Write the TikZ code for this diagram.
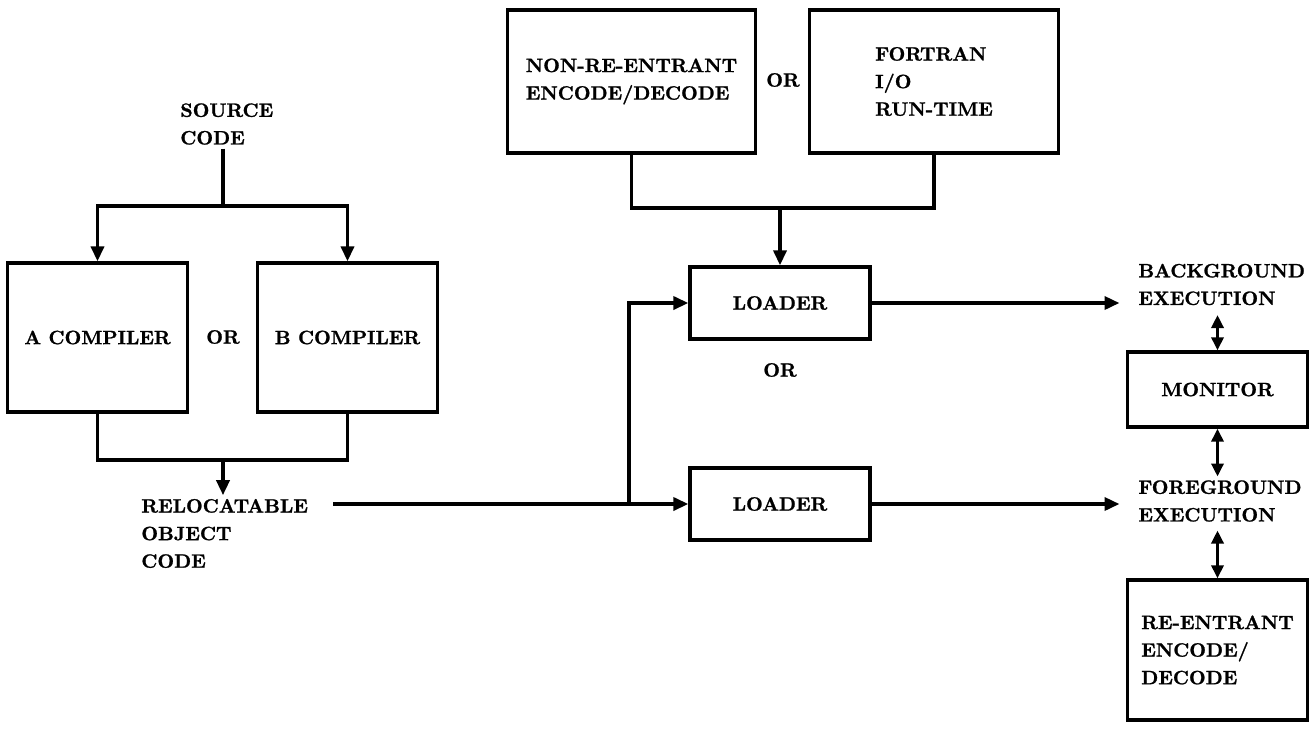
\documentclass[tikz,border=0pt]{standalone}
\usepackage{fontspec}
\setmainfont{Latin Modern Roman}[BoldFeatures={FakeBold=1.2}]
\usetikzlibrary{positioning,arrows.meta,calc}

\begin{document}
\begin{tikzpicture}[x=0.02cm, y=-0.02cm, font=\fontsize{11}{15.7}\selectfont\bfseries, every node/.style={align=left}]
\tikzset{
  box/.style={draw, line width=1.9pt, minimum width=3.6cm, minimum height=2.98cm},
  libbox/.style={box, minimum width=4.97cm, minimum height=2.86cm},
  ldrbox/.style={box, minimum height=1.44cm},
  lbl/.style={inner sep=2pt, anchor=west},
  ln/.style={line width=2pt},
  arr/.style={ln, -{Triangle[length=0.3cm,width=0.26cm]}},
  darr/.style={ln, {Triangle[length=0.26cm,width=0.24cm]}-{Triangle[length=0.26cm,width=0.24cm]}}
}
  \useasboundingbox (0,0) rectangle (1309,728);
  \node[lbl] (src) at (176.5,124) {SOURCE\\CODE};
  \node[box] (acomp) at (97.5,337.5) {A COMPILER};
  \node (or1) at (223,337) {OR};
  \node[box] (bcomp) at (347.5,337.5) {B COMPILER};
  \node[lbl] (reloc) at (137.5,533.5) {RELOCATABLE\\OBJECT\\CODE};
  \node[libbox] (nonre) at (631.5,81.5) {NON-RE-ENTRANT\\ENCODE/DECODE};
  \node (or2) at (783,80) {OR};
  \node[libbox] (fortran) at (934,81.5) {FORTRAN\\I/O\\RUN-TIME};
  \node[ldrbox] (lda) at (780,303) {LOADER};
  \node (or3) at (780,370) {OR};
  \node[ldrbox] (ldb) at (780,504) {LOADER};
  \node[lbl] (bgexec) at (1134.5,284.5) {BACKGROUND\\EXECUTION};
  \node[box, minimum height=1.5cm] (monitor) at (1217.5,389.5) {MONITOR};
  \node[lbl] (fgexec) at (1134.5,501) {FOREGROUND\\EXECUTION};
  \node[box, minimum height=2.8cm] (reent) at (1217.5,650) {RE-ENTRANT\\ENCODE/\\DECODE};

  \coordinate (srcj) at (223,206);
  \coordinate (cmpj) at (223,460);
  \coordinate (relout) at (333,504);
  \coordinate (fork) at (629,504);
  \coordinate (libj) at (780,208);

  \draw[ln] (src.south -| srcj) -- (srcj);
  \draw[arr] (srcj) -| (acomp.north);
  \draw[arr] (srcj) -| (bcomp.north);
  \draw[ln] (acomp.south) |- (cmpj) -| (bcomp.south);
  \draw[arr] (cmpj) -- (reloc.north -| cmpj);
  \draw[arr] (relout) -- (ldb.west);
  \draw[arr] (fork) |- (lda.west);
  \draw[ln] (nonre.south) |- (libj) -| (fortran.south);
  \draw[arr] (libj) -- (lda.north);
  \draw[arr, shorten >=0.3cm] (lda.east) -- (lda.east -| bgexec.west);
  \draw[arr, shorten >=0.3cm] (ldb.east) -- (ldb.east -| fgexec.west);
  \draw[darr, shorten <=0.12cm] (bgexec.south -| monitor.north) -- (monitor.north);
  \draw[darr] (monitor.south) -- (monitor.south |- fgexec.north);
  \draw[darr, shorten <=0.1cm] (fgexec.south -| reent.north) -- (reent.north);
\end{tikzpicture}
\end{document}
